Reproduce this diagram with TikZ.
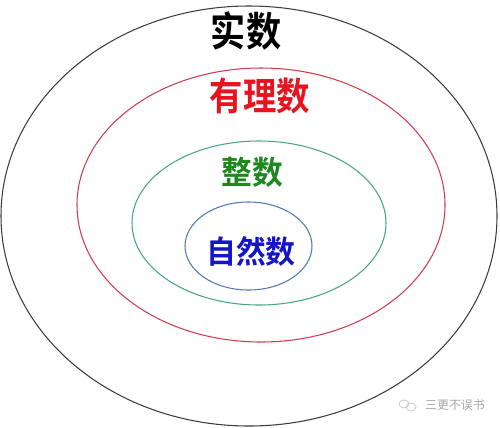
\documentclass[tikz,border=0pt]{standalone}
\usepackage{fontspec}
\newfontfamily\cjk{Noto Sans CJK SC}[BoldFont={Noto Sans CJK SC Bold}]
\usepackage{tikz}
\usetikzlibrary{positioning}

\definecolor{rimblack}{RGB}{60,60,60}
\definecolor{rimred}{RGB}{205,60,80}
\definecolor{rimgreen}{RGB}{70,165,130}
\definecolor{rimblue}{RGB}{80,120,180}
\definecolor{txtred}{RGB}{230,20,30}
\definecolor{txtgreen}{RGB}{30,135,30}
\definecolor{txtblue}{RGB}{20,20,200}

\begin{document}
\begin{tikzpicture}[x=0.02cm, y=-0.02cm,
  rim/.style={line width=0.6pt},
  lbl/.style={inner sep=0pt, font=\cjk\bfseries}]
\useasboundingbox (0,0) rectangle (500,427);

% the four sets
\draw [rim, rimblack] (249,216) ellipse [x radius=248, y radius=210];
\draw [rim, rimred] (261,205) ellipse [x radius=184, y radius=137];
\draw [rim, rimgreen] (259,223) ellipse [x radius=127, y radius=82];
\draw [rim, rimblue] (248.5,246) ellipse [x radius=63.5, y radius=44];

\node [lbl, black] (shishu) at (246,31) {\fontsize{20pt}{20pt}\selectfont\scalebox{1}[1.15]{实数}};
\node [lbl, txtred] (youlishu) at (260,96) {\fontsize{19pt}{19pt}\selectfont\scalebox{1}[1.15]{有理数}};
\node [lbl, txtgreen] (zhengshu) at (252,172) {\fontsize{17.5pt}{17.5pt}\selectfont\scalebox{1}[1.05]{整数}};
\node [lbl, txtblue] (ziranshu) at (251,251) {\fontsize{17pt}{17pt}\selectfont\scalebox{1}[1.05]{自然数}};

% watermark
\draw [gray!45, line width=0.4pt] (404,404) ellipse [x radius=5, y radius=4];
\draw [gray!45, line width=0.4pt] (411,407) ellipse [x radius=5, y radius=4];
\node [inner sep=0pt, gray!70, font=\cjk\fontsize{6.8pt}{6.8pt}\selectfont] (mark) at (455,405) {三更不误书};
\end{tikzpicture}
\end{document}
